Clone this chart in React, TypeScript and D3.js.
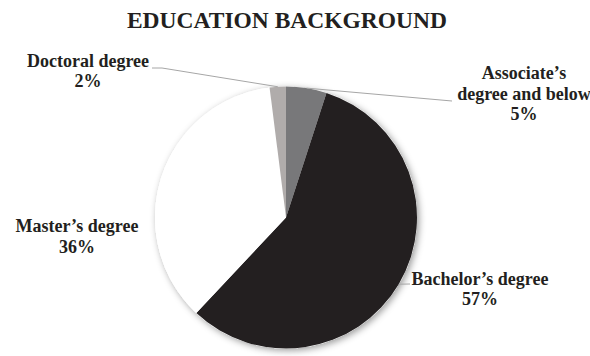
import React from "react";
import * as d3 from "d3";

const categories = ["Associate’s degree and below", "Bachelor’s degree", "Master’s degree", "Doctoral degree"];
const values = [5, 57, 36, 2];
const labelLines = [
  ["Associate’s", "degree and below", "5%"],
  ["Bachelor’s degree", "57%"],
  ["Master’s degree", "36%"],
  ["Doctoral degree", "2%"],
];
const colors = ["#78787a", "#231f20", "#ffffff", "#b0acab"];

const W = 590, H = 356;
const cx = 286, cy = 217.5, R = 131;
const FONT = "'Liberation Serif', 'Times New Roman', Times, serif";
// label layout: [x, baselines]
const labelPos: [number, number[]][] = [
  [524, [79, 100, 120]],
  [480, [285, 305]],
  [77, [232, 253]],
  [88, [67, 87]],
];
// leader line end points (near label)
const leaderEnds: ([number, number][] | null)[] = [
  [[452, 101]],
  [[410, 284]],
  null,
  [[162, 68], [152, 68]],
];

export default function App() {
  const pie = d3.pie<number>().sort(null).value((d) => d)(values);
  const arc = d3.arc<d3.PieArcDatum<number>>().innerRadius(0).outerRadius(R);
  return (
    <svg width={W} height={H} style={{ position: "absolute", left: 0, top: 0 }}>
      <defs>
        <filter id="sh" x="-20%" y="-20%" width="140%" height="140%">
          <feDropShadow dx="2" dy="2" stdDeviation="3.5" floodColor="#000" floodOpacity="0.4" />
        </filter>
      </defs>
      <text x={287} y={28} textAnchor="middle" fontFamily={FONT} fontWeight="bold" fontSize={23.5} fill="#231f20">
        EDUCATION BACKGROUND
      </text>
      <g transform={`translate(${cx},${cy})`}>
        <circle r={R} fill="#fff" filter="url(#sh)" />
        {pie.map((p, i) => (
          <path key={categories[i]} d={arc(p) || ""} fill={colors[i]} />
        ))}
      </g>
      {pie.map((p, i) => {
        const ends = leaderEnds[i];
        if (!ends) return null;
        const mid = (p.startAngle + p.endAngle) / 2;
        const sx = cx + R * Math.sin(mid), sy = cy - R * Math.cos(mid);
        const pts: [number, number][] = [[sx, sy], ...ends];
        return (
          <polyline key={"l" + i} points={pts.map((q) => q.join(",")).join(" ")} fill="none" stroke="#a6a6a6" strokeWidth={1} />
        );
      })}
      {labelLines.map((lines, i) => (
        <text key={"t" + i} textAnchor="middle" fontFamily={FONT} fontWeight="bold" fontSize={18} fill="#231f20">
          {lines.map((s, j) => (
            <tspan key={j} x={labelPos[i][0]} y={labelPos[i][1][j]}>{s}</tspan>
          ))}
        </text>
      ))}
    </svg>
  );
}
